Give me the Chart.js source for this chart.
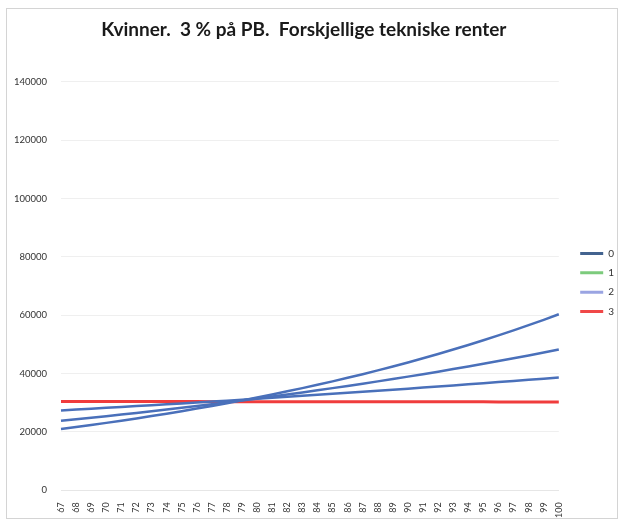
<!DOCTYPE html>
<html>
<head>
<meta charset="utf-8">
<script src="https://cdn.jsdelivr.net/npm/chart.js@4/dist/chart.umd.min.js"></script>
<style>
  html, body { margin: 0; padding: 0; background: #ffffff; }
  #wrap { width: 624px; height: 522px; position: relative; }
</style>
</head>
<body>
<div id="wrap"><canvas id="c" width="624" height="522"></canvas></div>
<script>
// Alder (x-akse)
const ages = [67,68,69,70,71,72,73,74,75,76,77,78,79,80,81,82,83,84,85,86,87,88,89,90,91,92,93,94,95,96,97,98,99,100];

// Teknisk rente 0 %
const rente0 = [21000,21680,22390,23120,23870,24640,25440,26270,27120,28010,28920,29860,30830,31830,32860,33930,35030,36170,37350,38560,39810,41110,42440,43820,45250,46720,48240,49800,51420,53090,54820,56600,58440,60340];
// Teknisk rente 1 %
const rente1 = [23840,24355,24881,25418,25967,26528,27101,27687,28285,28896,29520,30158,30809,31474,32154,32849,33558,34283,35024,35780,36553,37343,38149,38973,39815,40675,41554,42451,43368,44305,45262,46240,47239,48259];
// Teknisk rente 2 %
const rente2 = [27400,27688,27979,28272,28569,28869,29172,29479,29788,30101,30417,30736,31059,31385,31715,32048,32384,32724,33068,33415,33766,34120,34479,34841,35207,35576,35950,36327,36709,37094,37484,37877,38275,38677];
// Teknisk rente 3 %
const rente3 = [30450,30450,30440,30440,30430,30430,30420,30420,30410,30410,30400,30400,30400,30390,30390,30380,30380,30370,30370,30360,30360,30350,30350,30340,30340,30330,30330,30320,30320,30310,30310,30300,30300,30300];

const seriesNames = ['0', '1', '2', '3'];
const lineColors = ['#4a70ba', '#4a70ba', '#4a70ba', '#f03c3c'];
const legendColors = ['#43638f', '#7ccb7c', '#9aa4e2', '#f04848'];
const yTicks = [0, 20000, 40000, 60000, 80000, 100000, 120000, 140000];

// white background and thin outer frame
const frame = {
  id: 'frame',
  beforeDraw(chart) {
    const ctx = chart.ctx;
    ctx.save();
    ctx.fillStyle = '#ffffff';
    ctx.fillRect(0, 0, chart.width, chart.height);
    ctx.strokeStyle = '#d4d4d4';
    ctx.lineWidth = 1;
    ctx.strokeRect(6.5, 8.5, 611, 510);
    ctx.restore();
  }
};

// center the title a little left of the plot centre
const nudge = {
  id: 'nudge',
  afterLayout(chart) {
    if (chart.titleBlock) { chart.titleBlock.left -= 6; chart.titleBlock.right -= 6; }
  }
};

const values = [rente0, rente1, rente2, rente3];

new Chart(document.getElementById('c'), {
  type: 'line',
  data: {
    labels: ages,
    datasets: seriesNames.map((name, i) => ({
      label: name,
      data: values[i],
      borderColor: lineColors[i],
      backgroundColor: lineColors[i],
      borderWidth: i === 3 ? 3 : 2.5,
      pointRadius: 0,
      tension: 0,
      fill: false
    }))
  },
  options: {
    responsive: false,
    animation: false,
    layout: { padding: { left: 8, right: 0, top: 8, bottom: 0 } },
    plugins: {
      title: {
        display: true,
        fullSize: false,
        text: 'Kvinner.  3 % på PB.  Forskjellige tekniske renter',
        color: '#1a1a1a',
        font: { family: 'Lato', size: 19, weight: 'bold' },
        padding: { top: 10, bottom: 41 }
      },
      legend: {
        position: 'right',
        fullSize: false,
        align: 'start',
        title: {
          display: true,
          text: ' ',
          font: { size: 1 },
          padding: { top: 0, bottom: 156 }
        },
        labels: {
          font: { family: 'Lato', size: 10 },
          color: '#333333',
          boxWidth: 23,
          boxHeight: 3,
          padding: 9.4,
          generateLabels(chart) {
            return chart.data.datasets.map((ds, i) => ({
              text: ds.label,
              fillStyle: legendColors[i],
              strokeStyle: legendColors[i],
              lineWidth: 0,
              hidden: false,
              datasetIndex: i,
              fontColor: '#333333'
            }));
          }
        }
      },
      tooltip: { enabled: false }
    },
    scales: {
      x: {
        type: 'category',
        offset: false,
        afterFit(scale) { scale.paddingRight = 62; },
        grid: { display: false },
        border: { display: true, color: '#e6e6e6' },
        ticks: {
          autoSkip: false,
          minRotation: 90,
          maxRotation: 90,
          color: '#333333',
          font: { family: 'Lato', size: 9 },
          padding: 4
        }
      },
      y: {
        min: 0,
        max: 140000,
        afterBuildTicks(scale) {
          scale.ticks = yTicks.map(v => ({ value: v }));
        },
        afterFit(scale) { scale.width = 53; },
        grid: { color: '#efefef', lineWidth: 1, drawTicks: false },
        border: { display: false },
        ticks: {
          color: '#333333',
          font: { family: 'Lato', size: 9.5 },
          padding: 14,
          callback: v => String(v)
        }
      },
      // empty spacer between the plot and the legend
      gap: {
        type: 'linear',
        position: 'right',
        display: true,
        afterFit(scale) { scale.width = 12; },
        grid: { display: false, drawTicks: false },
        border: { display: false },
        ticks: { display: false }
      }
    }
  },
  plugins: [frame, nudge]
});
</script>
</body>
</html>
